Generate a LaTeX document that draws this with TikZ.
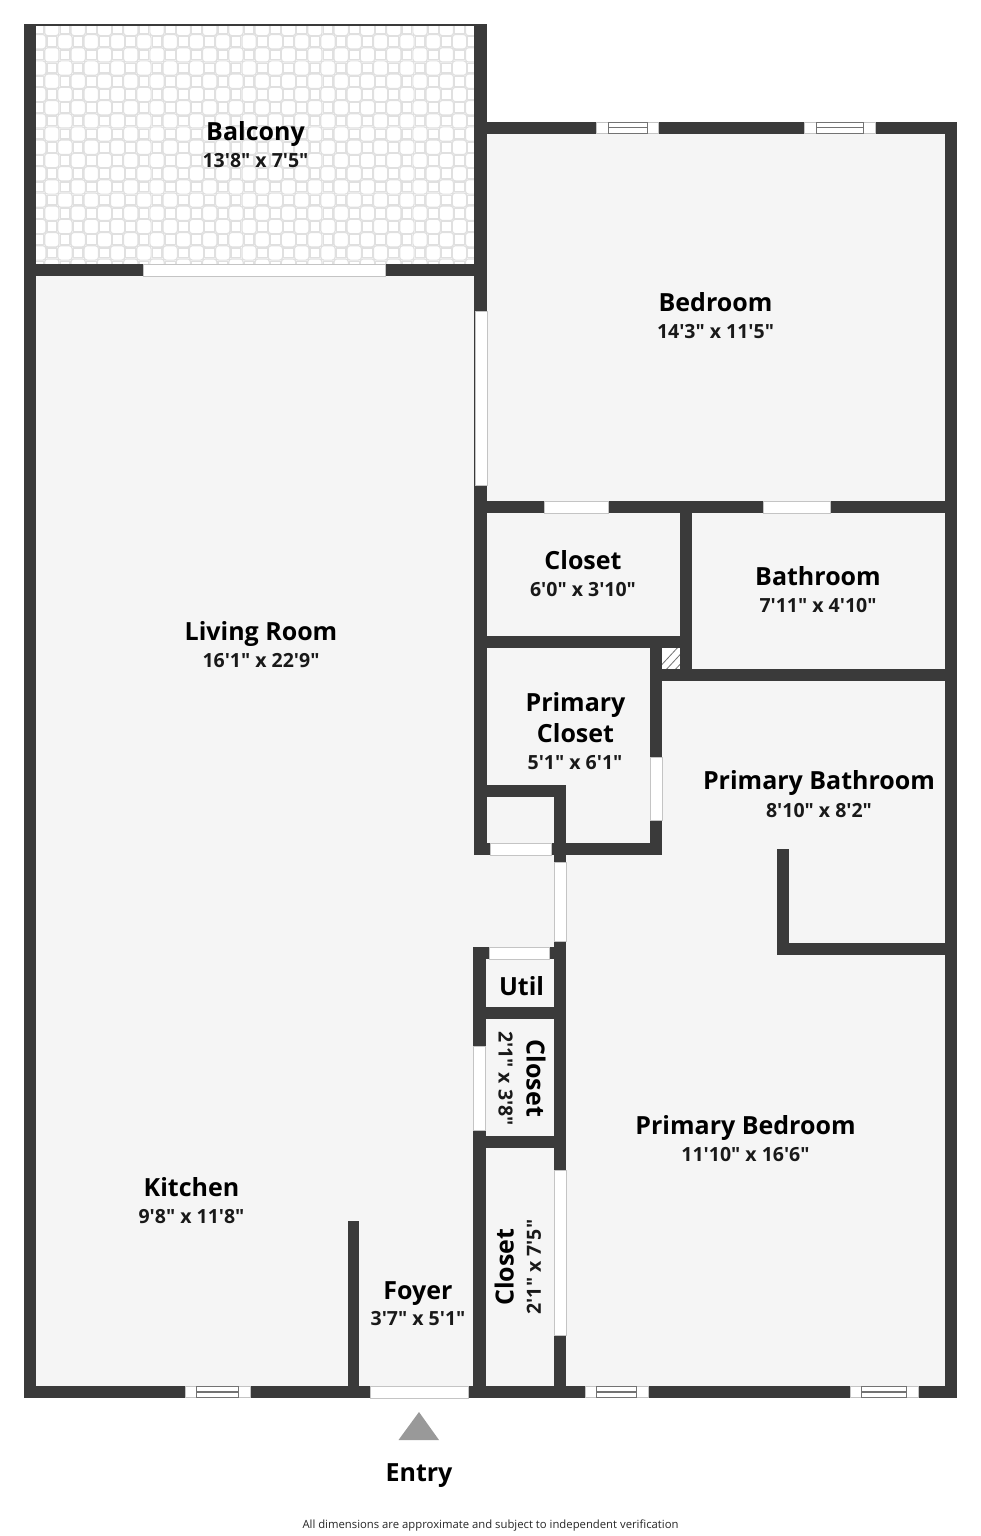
\documentclass[tikz,border=0pt]{standalone}
\usepackage{fontspec}
\newfontfamily\lab{Open Sans}
\definecolor{wallc}{HTML}{3A3A3A}
\definecolor{floorc}{HTML}{F5F5F5}
\definecolor{edgec}{HTML}{C4C4C4}
\definecolor{tilec}{HTML}{E0E0E0}
\tikzset{
  wall/.style={fill=wallc,draw=none},
  floorarea/.style={fill=floorc,draw=none},
  opening/.style={fill=white,draw=edgec,line width=0.8pt},
  frameline/.style={draw=black!55,line width=0.9pt},
  roomname/.style={font=\lab\bfseries\fontsize{25}{29}\selectfont,text=black,inner sep=0pt,align=center,text height=18pt,text depth=0pt},
  roomdim/.style={font=\lab\bfseries\fontsize{19.5}{24}\selectfont,text=black!90,inner sep=0pt},
}
\newcommand{\wl}[4]{\fill[wall] (#1,#2) rectangle (#3,#4);}
\newcommand{\winH}[3]{%
  \draw[opening] (#1,#3) rectangle (#2,#3+11.5);
  \draw[frameline] (#1+11.5,#3) rectangle (#2-11.5,#3+11.5);
  \draw[frameline,line width=1.6pt] (#1+11.5,#3+5.7) -- (#2-11.5,#3+5.7);}
\begin{document}
\begin{tikzpicture}[x=1pt,y=-1pt]
\useasboundingbox[fill=white] (0,0) rectangle (981,1536);
% floors
\fill[floorarea] (36,270) rectangle (480,1390);
\fill[floorarea] (480,128) rectangle (950,1390);
% balcony tiles
\begin{scope}
\clip (36,26) rectangle (474,264);
\foreach \i in {-1,...,33}{
  \foreach \j in {-1,...,19}{
    \pgfmathtruncatemacro{\tpar}{mod(\i+\j+101,2)}
    \pgfmathsetmacro{\cx}{65+13.15*(\i-2)}
    \pgfmathsetmacro{\cy}{41.7+13.2*(\j-1)}
    \ifnum\tpar=0
      \draw[tilec,line width=1.2pt,fill=white,rounded corners=3pt] (\cx-7.2,\cy-7.2) rectangle (\cx+7.2,\cy+7.2);
    \fi
  }
}
\foreach \i in {-1,...,33}{
  \foreach \j in {-1,...,19}{
    \pgfmathtruncatemacro{\tpar}{mod(\i+\j+101,2)}
    \pgfmathsetmacro{\cx}{65+13.15*(\i-2)}
    \pgfmathsetmacro{\cy}{41.7+13.2*(\j-1)}
    \ifnum\tpar=1
      \draw[tilec,line width=1.2pt,fill=white] (\cx-4.9,\cy-4.9) rectangle (\cx+4.9,\cy+4.9);
    \fi
  }
}
\end{scope}
% shaft
\fill[white] (661,648) rectangle (680,669);
\begin{scope}
\clip (661,648) rectangle (680,669);
\foreach \k in {0,9,18,27}{\draw[black!55,line width=0.8pt] (655+\k,672) -- (680+\k,645);}
\end{scope}
% outer walls
\wl{24}{24}{487}{26.5}
\wl{24}{24}{36}{1398}
\wl{24}{264}{487}{276}
\wl{474}{24}{487}{855}
\wl{474}{122}{957}{134}
\wl{945}{122}{957}{1398}
\wl{24}{1386}{957}{1398}
% inner walls
\wl{474}{501}{957}{513}
\wl{680}{501}{692}{681}
\wl{474}{636}{692}{648}
\wl{650}{669}{957}{681}
\wl{650}{636}{662}{855}
\wl{474}{785}{566}{797}
\wl{554}{785}{566}{1398}
\wl{474}{843}{662}{855}
\wl{473}{947}{485.5}{1398}
\wl{473}{947}{566}{959}
\wl{473}{1007}{566}{1019}
\wl{473}{1136}{566}{1148}
\wl{348}{1221}{359}{1398}
\wl{777}{849}{789}{955}
\wl{777}{943}{957}{955}
% openings
\draw[opening] (143,264) rectangle (385,276);
\draw[opening] (475,311) rectangle (487,485);
\draw[opening] (544,501) rectangle (608,513);
\draw[opening] (763,501) rectangle (830,513);
\draw[opening] (650,757) rectangle (662,820);
\draw[opening] (490.5,843) rectangle (551,855);
\draw[opening] (554,862) rectangle (566,941);
\draw[opening] (489,947) rectangle (549,959);
\draw[opening] (473,1046) rectangle (485.5,1130);
\draw[opening] (554,1170) rectangle (566,1335);
\draw[opening] (370,1386) rectangle (468,1398);
% windows
\winH{596.5}{658.5}{122}
\winH{804.5}{875}{122}
\winH{185}{250}{1386}
\winH{585}{648}{1386}
\winH{850}{918}{1386}
% entry
\fill[black!40] (398.5,1440) -- (419,1412) -- (439,1440) -- cycle;
% labels
\node[roomname] (n1) at (255.5,132) {Balcony};
\node[roomdim] (d1) at (255.5,161) {13'8" x 7'5"};
\node[roomname] (n2) at (715.5,302.5) {Bedroom};
\node[roomdim] (d2) at (715.5,332) {14'3" x 11'5"};
\node[roomname] (n3) at (261,631.5) {Living Room};
\node[roomdim] (d3) at (261,661) {16'1" x 22'9"};
\node[roomname] (n4) at (583,560) {Closet};
\node[roomdim] (d4) at (583,589.5) {6'0" x 3'10"};
\node[roomname] (n5) at (818,576) {Bathroom};
\node[roomdim] (d5) at (818,605.5) {7'11" x 4'10"};
\node[roomname] (n6) at (575.5,702) {Primary};
\node[roomname] (n6b) at (575.5,733.5) {Closet};
\node[roomdim] (d6) at (575,763) {5'1" x 6'1"};
\node[roomname] (n7) at (819,780.5) {Primary Bathroom};
\node[roomdim] (d7) at (819,810.5) {8'10" x 8'2"};
\node[roomname] (n8) at (521.5,986.5) {Util};
\node[roomname,rotate=-90] (n9) at (535.5,1078.5) {Closet};
\node[roomdim,rotate=-90] (d9) at (505.5,1078.5) {2'1" x 3'8"};
\node[roomname,rotate=90] (n10) at (504.5,1267) {Closet};
\node[roomdim,rotate=90] (d10) at (534,1267) {2'1" x 7'5"};
\node[roomname] (n11) at (745.5,1125.5) {Primary Bedroom};
\node[roomdim] (d11) at (745.5,1154.5) {11'10" x 16'6"};
\node[roomname] (n12) at (191.5,1187.5) {Kitchen};
\node[roomdim] (d12) at (191.5,1217) {9'8" x 11'8"};
\node[roomname] (n13) at (418,1290) {Foyer};
\node[roomdim] (d13) at (418,1318.5) {3'7" x 5'1"};
\node[roomname] (n14) at (419,1472.5) {Entry};
\node[font=\lab\fontsize{11.3}{13}\selectfont,text=black!85,inner sep=0pt] (foot) at (490.5,1525.5) {All dimensions are approximate and subject to independent verification};
\end{tikzpicture}
\end{document}
